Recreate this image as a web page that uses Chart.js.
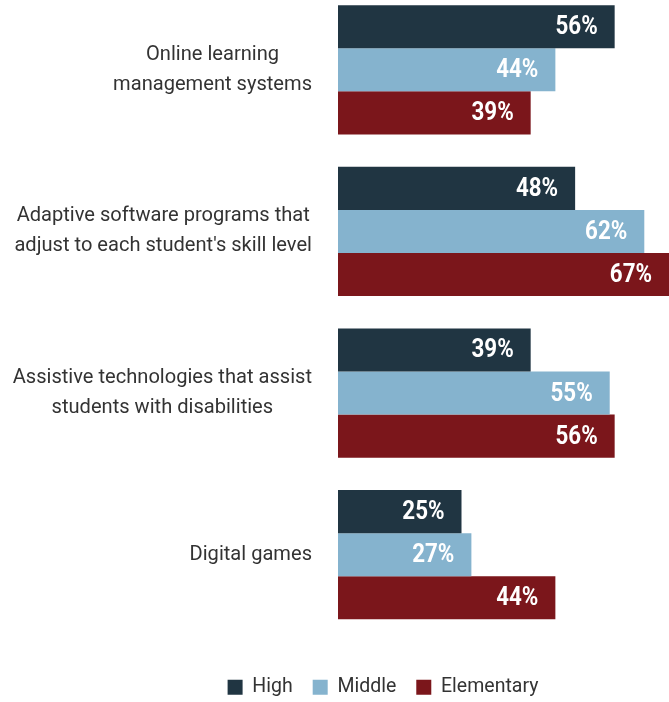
<!DOCTYPE html>
<html>
<head>
<meta charset="utf-8">
<script src="https://cdn.jsdelivr.net/npm/chart.js@4/dist/chart.umd.min.js"></script>
<style>
  html, body { margin: 0; padding: 0; background: #ffffff; overflow: hidden; }
  #wrap { position: absolute; left: 0; top: -11px; width: 669px; height: 718px; }
</style>
</head>
<body>
<div id="wrap"><canvas id="chart"></canvas></div>
<script>
// Survey categories (each entry is a list of label lines)
const categories = [
  ["Online learning", "management systems"],
  ["Adaptive software programs that", "adjust to each student's skill level"],
  ["Assistive technologies that assist", "students with disabilities"],
  ["Digital games"]
];
const seriesNames = ["High", "Middle", "Elementary"];
const highValues = [56, 48, 39, 25];
const middleValues = [44, 62, 55, 27];
const elementaryValues = [39, 67, 56, 44];

const colors = ["#203542", "#85b3ce", "#7b161b"];
const FONT = "Roboto, 'Liberation Sans', sans-serif";

// Category labels: block right-aligned against the axis, lines centred within the block
const categoryLabels = {
  id: 'categoryLabels',
  afterDraw(chart) {
    const ctx = chart.ctx;
    const y = chart.scales.y;
    const right = chart.chartArea.left - 26;
    const lineH = 30;
    ctx.save();
    ctx.font = "20.1px " + FONT;
    ctx.fillStyle = "#333333";
    ctx.textAlign = "center";
    ctx.textBaseline = "middle";
    categories.forEach((lines, i) => {
      const cy = y.getPixelForTick(i);
      const w = Math.max(...lines.map(l => ctx.measureText(l).width));
      const cx = right - w / 2;
      const top = cy - (lines.length - 1) * lineH / 2;
      lines.forEach((l, k) => ctx.fillText(l, cx, top + k * lineH));
    });
    ctx.restore();
  }
};

// Value labels inside the end of each bar
const valueLabels = {
  id: 'valueLabels',
  afterDatasetsDraw(chart) {
    const ctx = chart.ctx;
    ctx.save();
    ctx.font = "bold 26px " + FONT;
    ctx.fillStyle = "#ffffff";
    ctx.textAlign = "right";
    ctx.textBaseline = "middle";
    const sx = 0.86;
    chart.data.datasets.forEach((ds, di) => {
      const meta = chart.getDatasetMeta(di);
      meta.data.forEach((bar, i) => {
        ctx.save();
        ctx.translate(bar.x - 17, bar.y + 1);
        ctx.scale(sx, 1);
        ctx.fillText(ds.data[i] + "%", 0, 0);
        ctx.restore();
      });
    });
    ctx.restore();
  }
};

new Chart(document.getElementById('chart'), {
  type: 'bar',
  data: {
    labels: categories,
    datasets: [
      { label: seriesNames[0], data: highValues, backgroundColor: colors[0] },
      { label: seriesNames[1], data: middleValues, backgroundColor: colors[1] },
      { label: seriesNames[2], data: elementaryValues, backgroundColor: colors[2] }
    ]
  },
  options: {
    indexAxis: 'y',
    responsive: true,
    maintainAspectRatio: false,
    animation: false,
    layout: { padding: { left: 97, right: 0, top: 0, bottom: 0 } },
    datasets: {
      bar: { categoryPercentage: 0.8, barPercentage: 1.0, borderWidth: 0 }
    },
    scales: {
      x: {
        min: 0,
        max: 67,
        display: true,
        grid: { display: false },
        border: { display: false },
        ticks: { display: false },
        afterFit(scale) { scale.height = 22; }
      },
      y: {
        grid: { display: false },
        border: { display: false },
        ticks: { display: false },
        afterFit(scale) { scale.width = 241; }
      }
    },
    plugins: {
      legend: {
        position: 'bottom',
        labels: {
          boxWidth: 15,
          boxHeight: 15,
          padding: 20,
          color: '#333333',
          font: { family: FONT, size: 19.5 }
        }
      },
      tooltip: { enabled: false }
    }
  },
  plugins: [categoryLabels, valueLabels]
});
</script>
</body>
</html>
